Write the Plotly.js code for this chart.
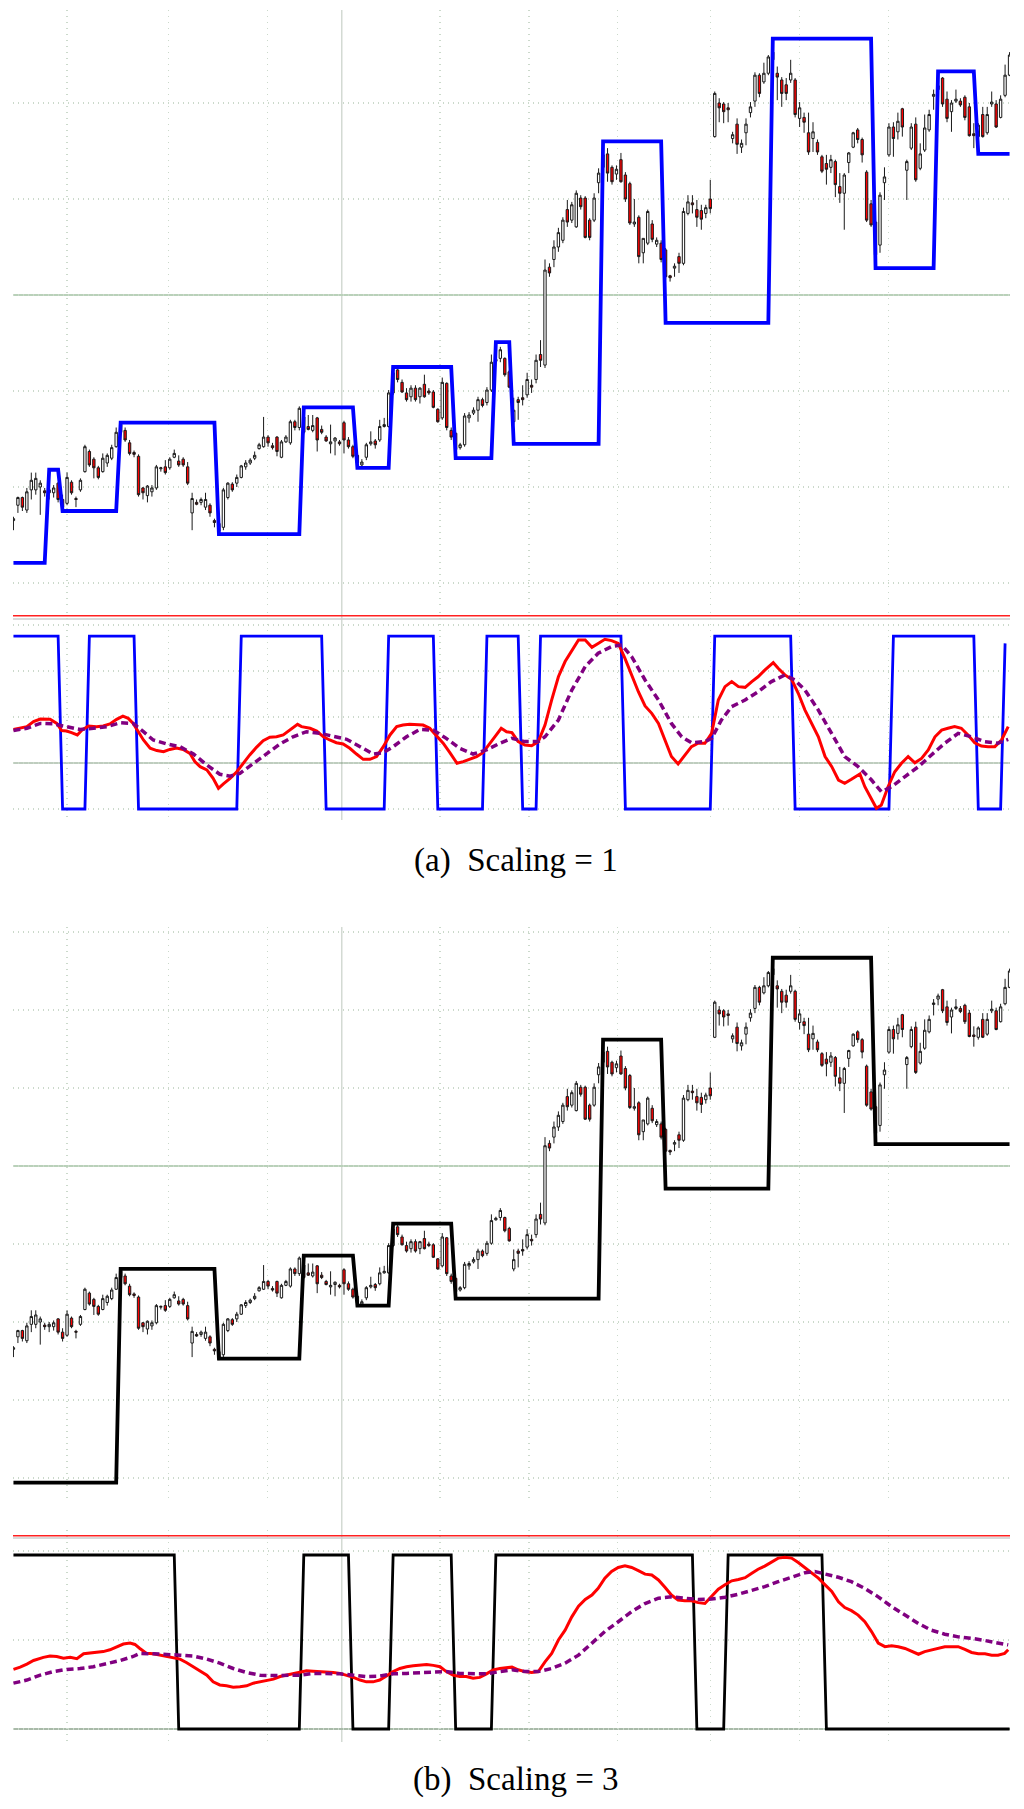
<!DOCTYPE html>
<html>
<head>
<meta charset="utf-8">
<script src="https://cdn.plot.ly/plotly-3.0.1.min.js"></script>
<style>
  html, body { margin: 0; padding: 0; background: #fff; }
  #chart { width: 1024px; height: 1809px; }
</style>
</head>
<body>
<div id="chart"></div>
<script>
// ---- price bars (same series in both figures) ----
var open = [
  106.5,108.1,108.9,107.6,109.7,109.7,110.0,109.6,109.4,109.4,
  110.4,108.7,108.3,110.5,108.8,109.7,111.6,113.7,112.9,112.0,
  111.6,112.5,113.0,114.2,115.7,115.9,114.6,113.6,113.2,109.9,
  109.1,109.5,109.9,111.9,112.1,112.0,113.1,112.7,112.9,112.1,
  107.3,108.4,108.4,107.9,108.1,106.5,106.2,105.8,108.9,110.3,
  110.4,111.0,112.1,112.5,113.0,114.0,114.2,115.2,114.3,115.2,
  113.1,114.7,114.6,116.8,116.2,117.3,116.3,115.9,117.2,116.0,
  115.2,114.5,114.8,114.7,116.7,114.9,114.2,113.3,112.3,113.1,
  114.5,114.8,114.9,116.3,116.3,119.8,122.2,120.9,119.8,119.4,
  120.3,119.4,120.7,120.0,119.9,118.1,117.2,120.8,115.9,115.6,
  114.1,114.4,117.2,117.7,118.0,119.1,118.8,120.1,123.1,123.4,
  123.4,122.0,116.8,119.1,119.3,119.6,120.6,121.2,123.8,122.7,
  132.9,133.7,135.0,135.7,138.9,137.8,137.1,140.1,140.1,137.8,
  137.8,141.7,143.3,144.7,143.3,142.6,144.1,142.5,141.6,137.4,
  138.1,134.4,135.4,137.4,135.3,135.4,134.7,132.0,132.8,134.0,
  133.3,138.5,139.6,138.9,138.8,138.5,140.0,146.5,150.0,149.9,
  149.5,146.3,147.8,145.4,146.9,149.0,150.2,152.9,152.2,153.1,
  154.5,153.1,152.4,151.9,152.4,152.4,148.4,148.5,146.9,146.3,
  145.9,144.4,143.7,143.3,143.9,141.3,140.6,143.8,145.4,147.2,
  146.2,142.8,139.5,137.6,135.2,141.7,144.6,147.5,147.0,149.4,
  143.0,145.3,147.8,143.2,145.1,147.2,150.7,151.4,152.6,150.4,
  149.1,150.2,150.2,150.6,149.6,146.8,146.5,148.8,146.9,149.9,
  149.9,148.5,150.8,152.9];
var high = [
  106.9,109.0,109.0,109.9,111.5,111.5,110.7,109.9,110.0,110.2,
  110.5,109.2,111.5,110.7,109.0,110.9,114.4,113.9,113.1,112.2,
  113.5,113.5,114.4,116.2,116.8,116.2,114.9,113.8,113.4,110.0,
  110.2,110.2,112.3,112.1,112.8,113.1,113.9,113.3,113.1,112.6,
  109.4,108.7,108.9,109.4,108.3,106.7,106.4,109.9,110.5,110.5,
  111.3,112.3,112.8,113.0,113.7,114.6,117.3,115.4,114.6,115.3,
  114.9,115.4,117.0,117.0,118.4,117.5,117.5,117.5,117.3,116.4,
  115.4,116.5,115.2,114.9,116.9,115.2,114.4,113.5,112.9,114.6,
  115.8,115.0,117.0,117.2,120.1,122.2,122.5,121.2,120.3,120.6,
  120.6,120.4,121.7,120.3,120.1,118.2,121.4,120.9,116.2,115.7,
  114.6,117.7,117.8,118.3,119.4,119.3,120.4,123.8,123.5,124.6,
  123.5,122.2,119.3,119.4,120.6,121.9,121.2,123.8,125.3,133.7,
  133.3,135.7,137.0,138.1,139.9,139.7,140.9,140.4,140.3,138.0,
  140.6,143.2,145.6,145.3,143.5,143.5,144.8,142.8,141.8,140.0,
  138.3,135.9,138.9,137.8,136.0,135.7,134.9,132.1,133.3,134.4,
  139.1,140.4,140.4,139.9,139.4,139.4,142.0,151.2,150.5,150.1,
  150.0,147.0,148.4,146.2,148.4,150.1,153.2,153.1,154.2,155.0,
  155.7,153.8,152.7,152.6,154.5,152.6,150.1,149.0,149.0,148.0,
  146.2,144.6,144.6,144.6,144.1,142.7,142.7,144.9,147.0,147.4,
  146.4,143.0,139.9,137.8,140.7,143.3,147.9,148.0,149.0,149.5,
  144.1,147.9,148.5,145.8,148.8,149.3,151.4,152.1,152.7,151.2,
  150.3,151.4,150.5,150.8,150.0,147.9,147.9,149.6,149.6,151.2,
  150.3,150.8,154.0,155.3];
var low = [
  105.5,107.3,107.5,107.3,108.7,109.2,107.1,109.0,108.7,108.9,
  108.4,107.5,108.1,109.2,107.9,109.5,111.5,112.1,110.9,110.8,
  111.5,112.1,112.8,114.1,115.6,114.7,113.3,113.1,109.0,108.7,
  108.4,109.0,109.7,111.6,111.3,111.8,113.0,112.1,112.1,110.2,
  105.5,108.1,108.1,107.6,106.9,105.8,105.1,105.5,108.7,109.5,
  110.0,110.9,111.8,112.3,112.8,113.9,114.1,114.2,113.9,113.2,
  113.0,114.6,114.4,115.9,115.9,115.5,115.9,115.7,113.7,115.5,
  114.7,113.5,113.3,114.3,113.5,114.0,113.0,112.3,112.1,112.8,
  114.3,114.0,114.7,116.2,116.2,119.6,120.9,119.8,118.9,118.9,
  118.9,118.7,119.3,119.6,118.2,116.7,117.0,115.9,114.9,113.5,
  113.9,114.2,116.7,117.5,116.8,118.3,118.5,119.9,123.0,123.0,
  121.5,120.3,116.5,117.0,118.5,119.3,119.8,120.8,122.5,122.4,
  131.9,132.9,134.5,135.4,137.1,137.5,137.0,138.9,135.9,135.7,
  137.6,140.6,142.7,141.8,141.5,142.0,141.7,139.7,137.3,137.1,
  133.3,133.3,135.2,135.5,135.0,133.4,131.6,131.4,131.9,132.3,
  133.1,138.3,138.5,137.1,136.8,138.0,138.5,146.4,148.0,147.9,
  148.0,145.8,144.7,144.8,145.6,148.5,149.6,150.6,152.0,152.9,
  154.3,150.3,149.6,150.3,152.1,148.5,147.5,146.9,144.6,144.9,
  144.6,142.7,141.5,142.7,140.2,139.6,136.8,142.7,145.3,145.8,
  143.8,137.6,137.1,134.0,134.4,139.9,144.4,144.4,146.2,146.5,
  139.9,145.1,141.8,143.0,144.9,147.0,149.3,150.6,149.6,148.0,
  147.0,150.0,149.6,148.2,146.5,145.3,146.2,146.4,146.7,149.6,
  147.4,148.4,150.6,152.8];
var close = [
  106.7,108.9,107.9,109.5,110.7,110.9,110.4,109.4,109.7,109.9,
  108.7,107.9,111.0,109.4,108.7,110.7,114.2,112.3,112.0,111.0,
  113.0,113.3,114.1,115.7,116.5,114.9,113.5,113.4,109.2,109.4,
  110.1,109.9,112.1,112.0,111.5,112.9,113.5,112.3,112.3,110.4,
  108.8,108.2,108.7,108.7,107.3,106.3,105.4,109.7,110.4,109.7,
  111.0,112.2,112.5,112.8,113.3,114.4,115.2,114.6,114.1,113.7,
  114.7,115.2,116.8,116.2,118.2,115.7,116.0,116.4,114.9,115.7,
  114.8,114.7,115.1,114.5,114.9,114.2,113.2,112.5,112.6,114.4,
  114.7,114.4,116.3,116.5,119.8,121.9,121.2,119.9,119.1,120.3,
  119.1,120.3,119.4,119.8,118.3,116.8,120.9,116.2,115.2,113.9,
  114.4,117.4,117.5,118.0,119.1,118.5,120.1,123.0,123.3,124.3,
  121.7,120.4,118.0,118.8,119.1,121.2,120.4,123.2,123.2,132.6,
  132.3,135.0,136.5,137.8,137.6,139.4,140.6,139.2,136.0,136.0,
  140.1,142.7,144.6,142.7,141.8,143.1,141.8,140.0,137.5,137.6,
  134.0,135.9,138.7,135.8,135.7,133.7,131.9,131.8,133.0,133.3,
  138.7,139.7,139.4,138.1,137.9,139.1,139.0,151.0,149.5,149.1,
  149.3,146.7,145.7,145.8,147.8,149.6,152.9,151.0,153.1,154.8,
  155.3,152.7,151.0,151.0,153.1,148.8,149.5,148.0,144.9,147.0,
  144.9,142.9,143.1,144.1,141.5,140.6,142.5,144.8,146.9,146.2,
  144.6,137.8,137.3,134.2,140.4,142.3,147.5,146.3,148.1,147.5,
  143.9,147.5,142.0,144.7,147.4,148.8,150.9,151.8,149.9,148.4,
  150.0,150.4,149.8,148.5,146.6,146.6,147.7,146.5,148.8,150.1,
  147.5,150.4,152.9,155.0];

// ---- step levels, (bar, level) break points ----
var stepAx = [0,7,8,10,11,23,24,45,46,64,65,76,77,84,85,98,99,107,108,111,112,131,132,145,146,169,170,192,193,206,207,215,216,223];
var stepAy = [102.1,102.1,111.8,111.8,107.5,107.5,116.7,116.7,105.1,105.1,118.3,118.3,112.0,112.0,122.5,122.5,113.0,113.0,125.1,125.1,114.5,114.5,146.0,146.0,127.1,127.1,156.7,156.7,132.8,132.8,153.3,153.3,144.7,144.7];
var stepBx = [0,23,24,45,46,64,65,76,77,84,85,98,99,131,132,145,146,169,170,192,193,223];
var stepBy = [89.4,89.4,116.8,116.8,105.3,105.3,118.5,118.5,112.1,112.1,122.6,122.6,113.0,113.0,146.2,146.2,127.1,127.1,156.7,156.7,132.8,132.8];

// ---- regime switch (lower panels) ----
var waveAx = [0,10,11,16,17,27,28,50,51,69,70,83,84,94,95,105,106,113,114,117,118,136,137,156,157,174,175,196,197,215,216,221,222];
var waveAy = [55.2,55.2,-20,-20,55.2,55.2,-20,-20,55.2,55.2,-20,-20,55.2,55.2,-20,-20,55.2,55.2,-20,-20,55.2,55.2,-20,-20,55.2,55.2,-20,-20,55.2,55.2,-20,-20,52];
var waveBx = [0,36,37,64,65,75,76,84,85,98,99,107,108,152,153,159,160,181,182,223];
var waveBy = [39.1,39.1,0,0,39.1,39.1,0,0,39.1,39.1,0,0,39.1,39.1,0,0,39.1,39.1,0,0];

// ---- oscillators, scaling = 1 ----
var redAx = [0,1.5,3,4.5,6,8.2,9.7,10.8,11.9,13,14.3,15.3,16.8,18.6,20.1,21.6,23.1,24.5,25.7,26.8,
  28,29.1,30.6,32.1,33.6,35,36.5,38,39.5,40.6,41.8,43.3,44.7,45.9,47,48.5,50,51.5,52.9,54.4,
  55.9,57.4,58.9,60.4,61.9,63.6,64.5,66.4,67.9,69.4,70.8,72.3,73.8,75.3,76.8,78.3,79.8,81.3,82.8,84.3,
  85.8,87.2,88.7,90.2,91.7,93.2,94.7,96.2,97.7,99.3,100.7,102.2,103.7,105.1,106.6,108.1,109.2,110.4,111.6,
  113,114.5,116,117.5,119,120.5,122,123.5,125,126.5,128,129.5,130.9,132.4,133.9,135.4,136.9,138.4,139.9,141.4,
  142.9,144.4,145.9,147.3,148.8,150.3,151.8,153.3,154.8,156.3,157.8,159.3,160.8,162.3,163.8,165.3,166.7,168.2,170.1,171.2,
  172.7,174.2,175.7,177.2,178.7,180.2,181.7,183.2,184.7,186.1,187.6,189.5,190.6,192.1,193.2,194.3,195.8,197.3,198.8,200.3,
  201.8,203.3,204.8,206.3,207.8,209.2,210.7,212.2,213.7,215.2,216.7,218.2,219.7,221.2,222.7];
var redAy = [14.6,15.1,15.8,18.0,19.1,19.0,17.2,14.1,13.9,13.2,12.2,14.3,16.1,15.8,16.1,17.0,19.0,20.4,19.4,17.2,
  13.6,10.0,6.4,5.4,4.9,5.9,6.5,5.9,4.2,0.6,-1.6,-3.0,-6.7,-11.0,-9.1,-6.7,-3.8,0.1,3.5,6.8,
  9.7,11.2,11.4,12.2,14.3,16.8,15.8,15.1,13.9,11.4,10.0,8.8,8.3,6.4,3.9,1.6,1.6,2.8,7.1,12.2,
  15.8,16.5,16.8,16.8,16.5,15.1,11.7,8.6,4.5,-0.1,0.6,1.6,2.8,4.5,8.6,12.2,15.1,13.6,13.2,
  9.3,7.8,7.5,9.3,16.5,27.4,37.5,44.1,49.1,53.5,53.5,50.3,52.0,53.8,53.2,52.0,45.5,38.3,31.0,24.8,
  21.6,17.2,10.0,2.8,-0.4,3.5,7.1,8.6,8.6,12.9,27.4,33.2,35.4,33.2,32.9,35.4,37.5,40.4,43.6,41.2,
  38.3,36.4,30.3,23.0,17.2,11.4,2.8,-1.6,-7.4,-8.8,-7.1,-4.8,-10.3,-16.1,-19.7,-18.3,-10.3,-3.8,-0.1,2.8,
  0.1,2.0,5.7,11.4,14.3,15.1,15.8,15.1,12.2,8.8,7.4,7.1,7.1,10.0,15.8];
var purAx = [0,3,6,8.9,11.9,14.9,17.9,20.9,23.9,26.8,29.1,31.3,34.3,37.3,40.3,43.3,46.2,48.5,50.7,53.7,
  56.7,59.7,62.6,65.6,68.6,71.6,74.6,77.6,80.5,82.8,85,88,91,94,96.9,99.9,102.9,105.9,108.9,111.6,
  114.5,117.5,119,122,125,128,130.9,133.9,136.2,138.4,141.4,144.4,147.3,149.6,151.8,154.8,156.3,158.5,160.8,163.8,
  166.7,169.7,172.7,174.9,177.2,180.2,183.2,186.1,189.1,192.1,194.3,196.6,199.6,202.6,205.5,208.5,211.5,214.5,217.4,220.4,222.7];
var purAy = [14.1,15.1,17.2,17.0,15.8,14.6,15.1,15.8,17.5,17.2,13.6,10.0,8.3,7.1,3.9,-0.9,-4.9,-5.7,-4.5,-0.1,
  4.2,8.3,11.4,13.6,12.9,11.7,10.3,7.1,3.9,4.5,7.1,11.4,14.6,14.3,10.7,6.4,3.9,5.7,8.6,10.7,
  9.3,9.3,11.4,18.7,31.7,41.9,47.7,50.6,51.3,46.2,36.1,27.4,17.2,11.4,8.8,9.3,10.7,18.7,24.5,27.4,
  31.0,35.4,38.3,36.1,31.7,23.0,12.9,2.8,-1.6,-7.4,-12.5,-10.3,-5.9,-1.6,3.5,8.6,12.9,11.4,9.3,8.6,10.3];

// ---- oscillators, scaling = 3 ----
var redBx = [0,1.5,3,4.5,6.7,8.2,9.7,11.2,12.7,14.2,15.7,17.9,20.1,21.6,23.1,24.6,26.1,27.2,28.3,29.8,
  31.3,32.8,34.3,35.8,37.3,38.8,40.3,41.8,43.3,44.7,46.2,47.7,49.2,50.7,52.2,53.7,55.2,56.7,58.2,59.7,
  61.1,62.6,64.1,65.6,67.1,68.6,70.1,71.6,73.1,74.6,76.1,77.6,79,80.5,82,83.5,85,86.5,88,89.5,
  91,92.5,94,95.5,96.9,98.4,99.9,101.4,102.9,104.4,105.9,107.4,108.9,111.6,
  113,114.5,116,117.5,119,120.5,122,123.5,125,126.5,128,129.5,130.9,132.4,133.9,135.4,136.9,138.4,139.9,141.4,
  142.9,144.4,145.9,147.3,148.8,150.3,151.8,153.3,154.8,156.3,157.8,159.3,160.8,162.3,163.8,165.3,166.7,168.2,169.7,171.2,
  172.7,174.2,175.7,177.2,178.7,180.2,181.7,183.2,184.7,186.1,187.6,189.1,190.6,192.1,193.6,195.1,196.6,198.1,199.6,201.1,
  202.6,204,205.5,207,208.5,210,211.5,213,214.5,216,217.5,219,220.4,221.9,222.7];
var redBy = [13.4,13.9,14.6,15.4,16.1,16.4,16.3,15.9,16.1,15.8,16.9,17.2,17.4,17.8,18.5,19.1,19.3,19.0,18.1,17.0,
  16.9,16.6,16.3,15.9,15.7,14.9,14.0,13.1,12.1,10.6,9.9,9.7,9.4,9.5,9.7,10.3,10.6,11.0,11.2,11.8,
  12.1,12.5,12.9,13.1,13.0,12.9,12.9,12.7,12.5,12.1,11.6,11.0,10.6,10.6,11.0,11.9,12.9,13.6,14.0,14.2,
  14.4,14.5,14.3,14.0,12.9,12.1,11.8,11.8,11.4,11.6,12.4,13.3,13.6,13.9,
  13.3,12.9,12.7,12.9,15.1,17.0,20.0,22.2,25.2,27.6,29.1,30.1,31.6,33.9,35.4,36.3,36.7,36.3,35.6,34.8,
  34.6,33.5,31.8,30.1,29.0,28.8,28.8,28.4,28.2,29.7,31.4,32.4,33.3,33.6,34.0,35.0,35.9,36.6,37.6,38.4,
  38.6,38.4,37.4,36.3,35.1,33.9,32.4,30.9,28.6,27.3,26.6,25.6,24.1,21.9,19.3,18.5,18.7,18.5,18.1,17.4,
  16.8,17.4,17.8,18.1,18.5,18.5,18.5,17.9,17.2,16.9,16.9,16.6,16.6,17.0,17.8];
var purBx = [0,3,6,8.9,11.9,14.9,17.9,20.9,23.9,26.8,28.3,31.3,34.3,37.3,40.3,43.3,46.2,49.2,52.2,55.2,
  58.2,61.1,64.1,67.1,70.1,73.1,76.1,79,82,85,88,91,94,96.9,99.9,102.9,105.9,108.9,111.6,
  114.5,117.5,120.5,123.5,126.5,129.5,132.4,135.4,138.4,141.4,144.4,147.3,150.3,153.3,156.3,159.3,162.3,165.3,168.2,171.2,
  174.2,177.2,179.4,181.7,184.7,187.6,190.6,193.6,196.6,199.6,202.6,205.5,208.5,211.5,214.5,217.4,220.4,222.7];
var purBy = [10.3,11.0,12.1,12.9,13.4,13.6,14.0,14.6,15.4,16.3,17.0,16.9,16.8,16.6,16.4,15.7,14.8,13.6,12.7,12.1,
  12.0,12.0,12.1,12.5,12.5,12.4,12.1,11.8,11.9,12.4,12.5,12.7,12.9,12.9,12.5,12.4,12.4,12.9,13.3,
  12.9,12.9,13.6,14.8,16.6,19.3,21.9,24.1,26.4,28.2,29.4,29.7,29.4,29.1,29.2,29.6,30.3,31.1,32.0,33.1,
  34.2,35.1,35.4,34.8,34.1,33.1,31.6,29.7,27.5,25.6,23.7,22.2,21.3,20.7,20.4,19.9,19.3,18.9];

// vertical grid positions (bar numbers) and the solid marker line
var gridX = [12, 34.8, 56.8, 95.5, 115.4, 135.3, 156, 175.9, 195.9];
var markX = 73.5;

var W = 1024, H = 1809;
var py = function (p) { return 1 - p / H; };
var bars = open.map(function (_, i) { return i; });
var xr = [-0.1, 223.1];
var GRID = '#cbd9cb';

function xa(anchor) {
  return { domain: [13 / W, 1010 / W], range: xr, anchor: anchor, tickvals: gridX,
    showticklabels: false, ticks: '', showgrid: true, gridcolor: GRID, griddash: '1px,5px',
    gridwidth: 1.2, zeroline: false, showline: false, rangeslider: { visible: false } };
}
function ya(pxBot, pxTop, range, ticks, anchor) {
  return { domain: [py(pxBot), py(pxTop)], range: range, anchor: anchor, tickvals: ticks,
    showticklabels: false, ticks: '', showgrid: true, gridcolor: GRID, griddash: '1px,4px',
    gridwidth: 1.2, zeroline: false, showline: false };
}

function candles(xa_, ya_) {
  return { type: 'candlestick', x: bars, open: open, high: high, low: low, close: close,
    xaxis: xa_, yaxis: ya_, hoverinfo: 'skip', whiskerwidth: 0,
    increasing: { line: { color: '#1a1a1a', width: 1 }, fillcolor: '#ffffff' },
    decreasing: { line: { color: '#1a1a1a', width: 1 }, fillcolor: '#ff0000' } };
}
function line(x, y, xa_, ya_, color, width, dash) {
  return { type: 'scatter', mode: 'lines', x: x, y: y, xaxis: xa_, yaxis: ya_,
    hoverinfo: 'skip', line: { color: color, width: width, dash: dash || 'solid' } };
}

var data = [
  candles('x', 'y'),
  line(stepAx, stepAy, 'x', 'y', '#0000ff', 3.8),
  line(waveAx, waveAy, 'x2', 'y2', '#0000ff', 2.8),
  line(redAx, redAy, 'x2', 'y2', '#ff0000', 3),
  line(purAx, purAy, 'x2', 'y2', '#800080', 3.5, '7px,4px'),
  candles('x3', 'y3'),
  line(stepBx, stepBy, 'x3', 'y3', '#000000', 3.8),
  line(waveBx, waveBy, 'x4', 'y4', '#000000', 2.8),
  line(redBx, redBy, 'x4', 'y4', '#ff0000', 3),
  line(purBx, purBy, 'x4', 'y4', '#800080', 3.5, '7px,4px')
];

function hline(xref, yref, v, color, width, layer) {
  return { type: 'line', xref: xref, yref: yref, x0: xr[0], x1: xr[1], y0: v, y1: v,
    line: { color: color, width: width }, layer: layer || 'below' };
}
function vline(pxTop, pxBot) {
  return { type: 'line', xref: 'x', yref: 'paper', x0: markX, x1: markX, y0: py(pxBot), y1: py(pxTop),
    line: { color: '#d3dad3', width: 1.5 }, layer: 'below' };
}

var layout = {
  width: W, height: H, autosize: false,
  margin: { l: 0, r: 0, t: 0, b: 0 },
  paper_bgcolor: '#ffffff', plot_bgcolor: '#ffffff',
  showlegend: false,
  boxgap: 0.25,
  xaxis: xa('y'), xaxis2: xa('y2'), xaxis3: xa('y3'), xaxis4: xa('y4'),
  yaxis: ya(607, 10, [97.5, 159.69], [100, 110, 120, 130, 140, 150], 'x'),
  yaxis2: ya(820, 612, [-24.78, 65.65], [-20, 0, 20, 40, 60], 'x2'),
  yaxis3: ya(1500, 927, [87.18, 160.64], [90, 100, 110, 120, 130, 140, 150, 160], 'x3'),
  yaxis4: ya(1742, 1530, [-2.92, 44.72], [0, 20, 40], 'x4'),
  shapes: [
    vline(10, 820), vline(927, 1742),
    hline('x', 'y', 130, '#b9d1b9', 2),
    hline('x3', 'y3', 130, '#b9d1b9', 2),
    hline('x2', 'y2', 0, '#7f9a7f', 1),
    hline('x4', 'y4', 0, '#a9baa9', 2),
    hline('x2', 'y2', 62.6, '#cccccc', 1.5),
    hline('x2', 'y2', 64, '#ff2020', 1.5, 'above'),
    hline('x4', 'y4', 42.9, '#cccccc', 1.5),
    hline('x4', 'y4', 43.4, '#ff2020', 1.5, 'above')
  ],
  annotations: [
    { text: '(a)\u2002Scaling = 1', xref: 'paper', yref: 'paper', x: 516 / W, y: py(861),
      xanchor: 'center', yanchor: 'middle', showarrow: false,
      font: { family: 'Liberation Serif, DejaVu Serif, serif', size: 33, color: '#000' } },
    { text: '(b)\u2002Scaling = 3', xref: 'paper', yref: 'paper', x: 516 / W, y: py(1779),
      xanchor: 'center', yanchor: 'middle', showarrow: false,
      font: { family: 'Liberation Serif, DejaVu Serif, serif', size: 33, color: '#000' } }
  ]
};

Plotly.newPlot('chart', data, layout, { staticPlot: true, displayModeBar: false });
</script>
</body>
</html>
